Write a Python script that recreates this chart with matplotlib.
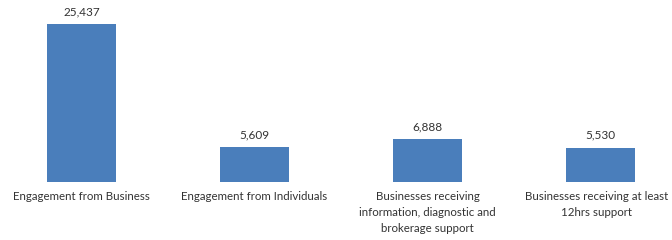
"""Bar chart of business support engagement counts."""

import matplotlib.pyplot as plt

categories = [
    "Engagement from Business",
    "Engagement from Individuals",
    "Businesses receiving\ninformation, diagnostic and\nbrokerage support",
    "Businesses receiving at least\n12hrs support",
]
values = [25437, 5609, 6888, 5530]

BAR_COLOR = "#4a7ebb"
TEXT_COLOR = "#333333"

plt.rcParams["font.family"] = ["Lato", "DejaVu Sans"]

fig = plt.figure(figsize=(6.72, 2.4), dpi=100)
# Baseline sits at y=182px of 240; axes spans the whole width
ax = fig.add_axes([0, 58 / 240, 1, 182 / 240])

x = range(len(categories))
ax.bar(x, values, width=0.4, color=BAR_COLOR)

ax.set_xlim(-0.471, 3.413)
ax.set_ylim(0, 25437 * 182 / 158)

# Value labels above bars
for xi, v in zip(x, values):
    ax.annotate(
        f"{v:,}",
        xy=(xi, v),
        xytext=(0, 5),
        textcoords="offset points",
        ha="center",
        va="bottom",
        fontsize=8.5,
        color=TEXT_COLOR,
    )

# Category labels below the baseline; the last one is nudged left so it
# stays inside the figure edge
for xi, label in zip(x, categories):
    dx = -3 if xi == len(categories) - 1 else 0
    ax.annotate(
        label,
        xy=(xi, 0),
        xytext=(dx, -6.5),
        textcoords="offset points",
        ha="center",
        va="top",
        fontsize=8.3,
        color=TEXT_COLOR,
        linespacing=1.55,
        annotation_clip=False,
    )

ax.set_xticks([])
ax.set_yticks([])
for spine in ax.spines.values():
    spine.set_visible(False)

fig.savefig("out.png", dpi=100)
plt.close(fig)
